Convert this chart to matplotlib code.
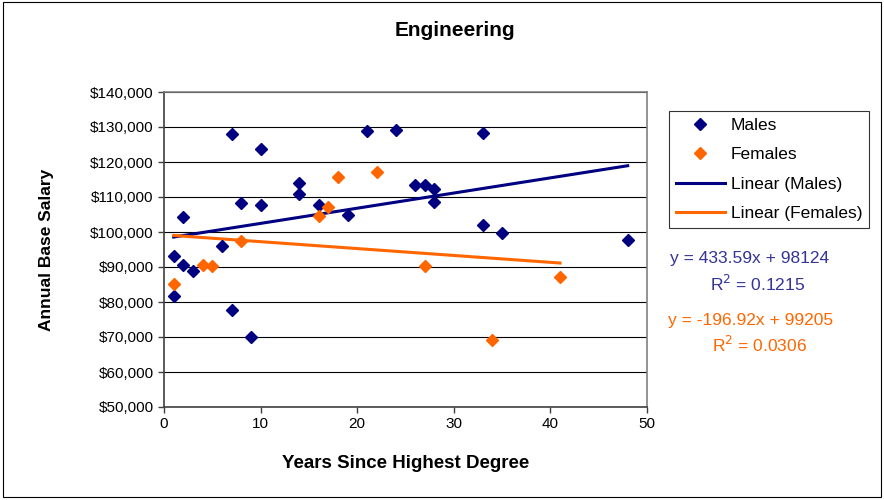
import numpy as np
import matplotlib
matplotlib.use("Agg")
from matplotlib import pyplot as plt
from matplotlib.ticker import FuncFormatter

plt.rcParams['font.family'] = ['Liberation Sans', 'DejaVu Sans']

# data
male_years = [7, 10, 21, 24, 14, 14, 8, 10, 16, 19, 2, 6, 1, 2, 3, 1, 7, 9,
              33, 26, 27, 28, 28, 33, 35, 48]
male_salary = [127900, 123800, 128900, 129200, 114000, 110900, 108200, 107700,
               107700, 105000, 104200, 96100, 93200, 90700, 89000, 81700,
               77700, 70000, 128400, 113500, 113500, 112300, 108600, 101900,
               99600, 97800]
female_years = [18, 22, 17, 16, 8, 4, 5, 1, 27, 41, 34]
female_salary = [115800, 117100, 107200, 104600, 97400, 90700, 90200, 85200,
                 90200, 87100, 69100]

male_fit = (433.59, 98124)
female_fit = (-196.92, 99205)
male_r2 = "0.1215"
female_r2 = "0.0306"

NAVY = '#000080'
ORANGE = '#FF6600'

fig = plt.figure(figsize=(8.84, 5.0), dpi=100)
fig.patch.set_facecolor('white')
# outer chart border
fig.add_artist(plt.Rectangle((0.003, 0.006), 0.994, 0.99, transform=fig.transFigure,
                             fill=False, edgecolor='black', lw=0.8))

ax = fig.add_axes([164/884, 1 - 407/500, (647-164)/884, (407-92)/500])

ax.set_xlim(0, 50)
ax.set_ylim(50000, 140000)
ax.set_xticks(np.arange(0, 51, 10))
ax.set_yticks(np.arange(50000, 140001, 10000))
ax.yaxis.set_major_formatter(FuncFormatter(lambda v, p: "${:,.0f}".format(v)))
ax.grid(axis='y', color='black', lw=0.8)
ax.set_axisbelow(True)
for side in ['top', 'right']:
    ax.spines[side].set_color('#808080')
    ax.spines[side].set_linewidth(1.2)
for side in ['left', 'bottom']:
    ax.spines[side].set_color('#404040')
    ax.spines[side].set_linewidth(1.2)
ax.tick_params(axis='both', labelsize=11, direction='out', length=4, width=1,
               color='#404040')

ax.plot(male_years, male_salary, 'D', color=NAVY, ms=6.5, ls='none', label='Males',
        clip_on=False, zorder=3)
ax.plot(female_years, female_salary, 'D', color=ORANGE, ms=6.5, ls='none',
        label='Females', clip_on=False, zorder=3)

mx = np.array([min(male_years), max(male_years)])
fx = np.array([min(female_years), max(female_years)])
ax.plot(mx, male_fit[0] * mx + male_fit[1], color=NAVY, lw=2.2, label='Linear (Males)')
ax.plot(fx, female_fit[0] * fx + female_fit[1], color=ORANGE, lw=2.2,
        label='Linear (Females)')

ax.set_xlabel('Years Since Highest Degree', fontsize=13.5, fontweight='bold', labelpad=17)
ax.set_ylabel('Annual Base Salary', fontsize=12.5, fontweight='bold', labelpad=26)
fig.text(455/884, 1 - 31/500, 'Engineering', ha='center', va='center',
         fontsize=15, fontweight='bold')

leg = ax.legend(loc='upper left', bbox_to_anchor=(669/884, 1 - 111/500),
                bbox_transform=fig.transFigure, frameon=True, fancybox=False,
                fontsize=12.5, handlelength=2.8, borderaxespad=0, labelspacing=0.82,
                handletextpad=0.35, borderpad=0.4)
leg.get_frame().set_edgecolor('black')
leg.get_frame().set_linewidth(0.8)

fig.text(670/884, 1 - 259/500, "y = {:.2f}x + {}".format(*male_fit), color='#333399',
         fontsize=12.5, va='center')
fig.text(710/884, 1 - 284/500, "R$^2$ = " + male_r2, color='#333399',
         fontsize=12.5, va='center')
fig.text(668/884, 1 - 321/500, "y = {:.2f}x + {}".format(*female_fit), color=ORANGE,
         fontsize=12.5, va='center')
fig.text(712/884, 1 - 345/500, "R$^2$ = " + female_r2, color=ORANGE,
         fontsize=12.5, va='center')

fig.savefig('out.png', dpi=100)
